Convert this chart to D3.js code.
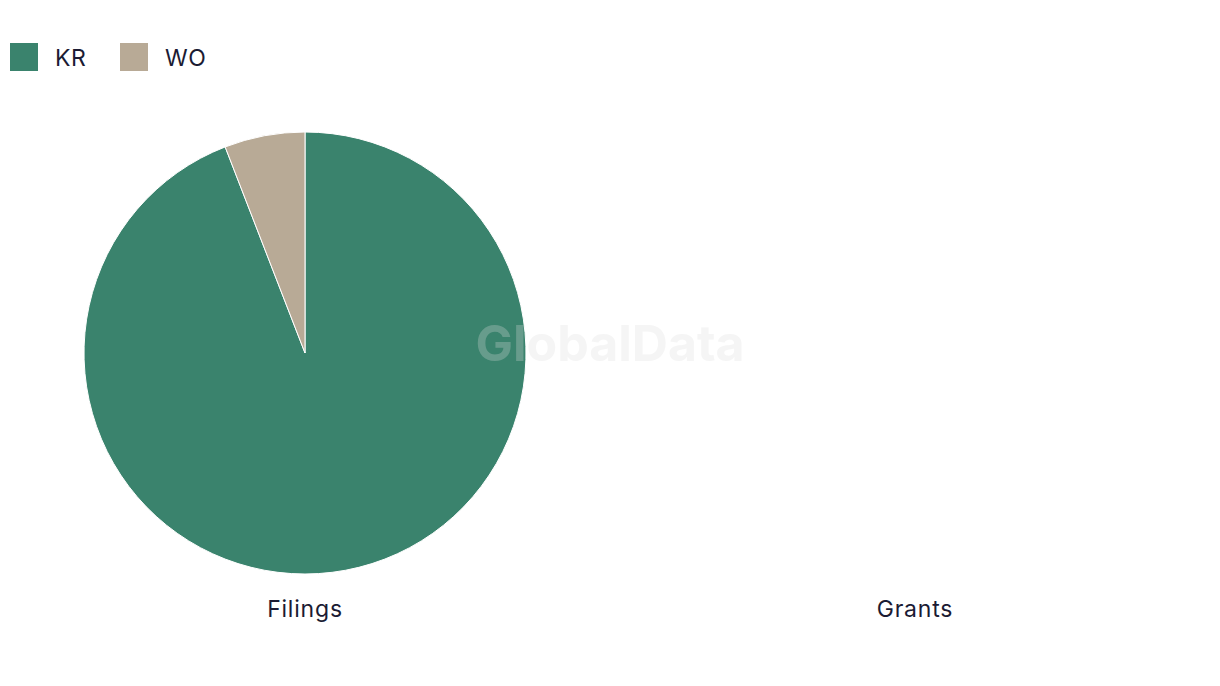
<!DOCTYPE html>
<html><head><meta charset="utf-8">
<script src="https://cdn.jsdelivr.net/npm/d3@7"></script>
<style>body{margin:0;background:#fff;}svg{display:block;font-family:"Inter","Liberation Sans",sans-serif;}</style>
</head><body>
<script>
const categories = ["KR", "WO"];
const colors = ["#3a836d", "#b8aa96"];
const filingsValues = [16, 1];
const grantsValues = [0, 0];
const panelLabels = ["Filings", "Grants"];

const W = 1220, H = 686;
const svg = d3.select("body").append("svg").attr("width", W).attr("height", H);

const color = d3.scaleOrdinal().domain(categories).range(colors);

// legend
const leg = svg.append("g");
const legX = d3.scaleOrdinal().domain(categories).range([10, 120]);
categories.forEach(c => {
  leg.append("rect").attr("x", legX(c)).attr("y", 43).attr("width", 28).attr("height", 28).attr("fill", color(c));
  leg.append("text").attr("x", legX(c) + 45).attr("y", 66).attr("font-size", 23)
    .attr("letter-spacing", 0.6).attr("fill", "#1b1b33").text(c);
});

const centers = [305, 915];
const cy = 353, r = 221;
const pie = d3.pie().sort(null).value(d => d.v);
const arc = d3.arc().innerRadius(0).outerRadius(r);

[filingsValues, grantsValues].forEach((vals, i) => {
  const g = svg.append("g").attr("transform", `translate(${centers[i]},${cy})`);
  const data = categories.map((c, j) => ({c, v: vals[j]}));
  if (d3.sum(vals) > 0) {
    g.selectAll("path").data(pie(data)).join("path")
      .attr("d", arc).attr("fill", d => color(d.data.c))
      .attr("stroke", "#fff").attr("stroke-width", 1);
  }
  svg.append("text").attr("x", centers[i]).attr("y", 617).attr("text-anchor", "middle")
    .attr("font-size", 23).attr("letter-spacing", 0.8).attr("fill", "#1b1b33").text(panelLabels[i]);
});

svg.append("text").attr("x", 610).attr("y", 361).attr("text-anchor", "middle")
  .attr("font-size", 50).attr("font-weight", "bold").attr("fill", "#dcdcdc").attr("opacity", 0.28)
  .text("GlobalData");
</script>
</body></html>
